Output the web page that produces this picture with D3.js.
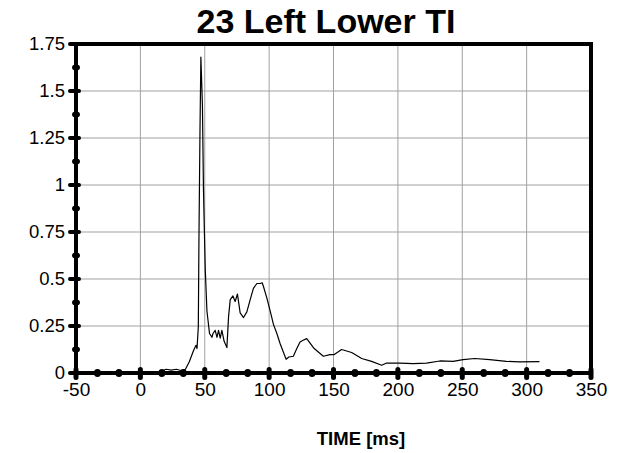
<!DOCTYPE html>
<html><head><meta charset="utf-8">
<script src="https://cdn.jsdelivr.net/npm/d3@7"></script>
<style>body{margin:0;background:#fff}svg{display:block;font-family:"Liberation Sans",Arial,sans-serif}</style>
</head><body><svg id="c" width="618" height="453"></svg>
<script>
const title = "23 Left Lower TI";
const xLabel = "TIME [ms]";
const xTicks = [-50, 0, 50, 100, 150, 200, 250, 300, 350];
const xTickLabels = ["-50", "0", "50", "100", "150", "200", "250", "300", "350"];
const yTicks = [0, 0.25, 0.5, 0.75, 1, 1.25, 1.5, 1.75];
const yTickLabels = ["0", "0.25", "0.5", "0.75", "1", "1.25", "1.5", "1.75"];
const time = [15,20,24,28,32,35,38,41.3,43.2,44,45,45.5,46.3,47,48.2,49,49.7,50.4,51.7,53.7,55.6,56.4,58.1,59.5,60.7,62,63.3,65,67.2,68.5,69.8,71.9,73.6,75.4,77.5,80.1,82.7,85.3,87.8,90.5,93,94.6,95.6,98.2,100.8,103.3,106,108.5,111.1,113.2,115.3,118.8,121.5,124,126.4,129.2,135,142.1,147.3,150.6,156.3,164.1,171.9,179.6,187.4,191.2,201.5,211.9,222.2,232.6,242.9,250.6,259.7,271.3,284.3,294.6,310];
const value = [0.005,0.02,0.015,0.02,0.012,0.02,0.06,0.12,0.147,0.13,0.245,0.72,1.29,1.68,1.42,0.98,0.76,0.55,0.33,0.21,0.19,0.21,0.227,0.19,0.227,0.185,0.227,0.17,0.135,0.3,0.39,0.41,0.38,0.42,0.32,0.295,0.325,0.39,0.45,0.476,0.476,0.48,0.46,0.40,0.33,0.26,0.21,0.157,0.11,0.073,0.085,0.089,0.13,0.165,0.174,0.183,0.13,0.089,0.098,0.098,0.125,0.109,0.077,0.062,0.041,0.053,0.052,0.05,0.053,0.064,0.062,0.071,0.077,0.071,0.062,0.059,0.061];

const svg = d3.select("#c");
const L = 76, R = 591, T = 44, B = 373;
const x = d3.scaleLinear().domain([-50, 350]).range([L, R]);
const y = d3.scaleLinear().domain([0, 1.75]).range([B, T]);

// grid
const grid = svg.append("g").attr("stroke", "#a0a0a0").attr("stroke-width", 1);
xTicks.slice(1, -1).forEach(t => grid.append("line").attr("x1", x(t)).attr("x2", x(t)).attr("y1", T).attr("y2", B));
yTicks.slice(1, -1).forEach(t => grid.append("line").attr("x1", L).attr("x2", R).attr("y1", y(t)).attr("y2", y(t)));

// data line
const line = d3.line().x((d, i) => x(time[i])).y(d => y(d));
svg.append("path").datum(value).attr("d", line).attr("fill", "none").attr("stroke", "#000").attr("stroke-width", 1.2).attr("stroke-linejoin", "round");

// frame
svg.append("rect").attr("x", L).attr("y", T).attr("width", R - L).attr("height", B - T)
  .attr("fill", "none").attr("stroke", "#000").attr("stroke-width", 4);

// axes (labels)
const xAxis = d3.axisBottom(x).tickValues(xTicks).tickSize(0).tickPadding(10).tickFormat((d, i) => xTickLabels[i]);
const gx = svg.append("g").attr("transform", `translate(0,${B})`).call(xAxis);
gx.select(".domain").remove();
gx.selectAll("text").attr("font-size", 19).attr("font-family", "Liberation Sans, Arial, sans-serif").attr("fill", "#000");

const yAxis = d3.axisLeft(y).tickValues(yTicks).tickSize(0).tickPadding(11).tickFormat((d, i) => yTickLabels[i]);
const gy = svg.append("g").attr("transform", `translate(${L},0)`).call(yAxis);
gy.select(".domain").remove();
gy.selectAll("text").attr("font-size", 18.5).attr("font-family", "Liberation Sans, Arial, sans-serif").attr("fill", "#000");

// tick marks
const tk = svg.append("g").attr("fill", "#000");
xTicks.forEach(t => tk.append("rect").attr("x", x(t) - 2.5).attr("y", B - 6).attr("width", 5).attr("height", 13).attr("rx", 2.5));
d3.range(-50, 350, 50 / 3).forEach((t, i) => { if (i % 3 !== 0) tk.append("ellipse").attr("cx", x(t)).attr("cy", B).attr("rx", 3.5).attr("ry", 4); });
yTicks.forEach(t => tk.append("rect").attr("x", L - 8).attr("y", y(t) - 2).attr("width", 13).attr("height", 4).attr("rx", 2));
d3.range(0.125, 1.75, 0.25).forEach(t => tk.append("ellipse").attr("cx", L).attr("cy", y(t)).attr("rx", 4).attr("ry", 3));

// titles
svg.append("text").attr("x", 326).attr("y", 33).attr("text-anchor", "middle").attr("font-size", 34).attr("font-weight", "bold").text(title);
svg.append("text").attr("x", 361).attr("y", 445).attr("text-anchor", "middle").attr("font-size", 18.5).attr("font-weight", "bold").text(xLabel);
</script></body></html>
